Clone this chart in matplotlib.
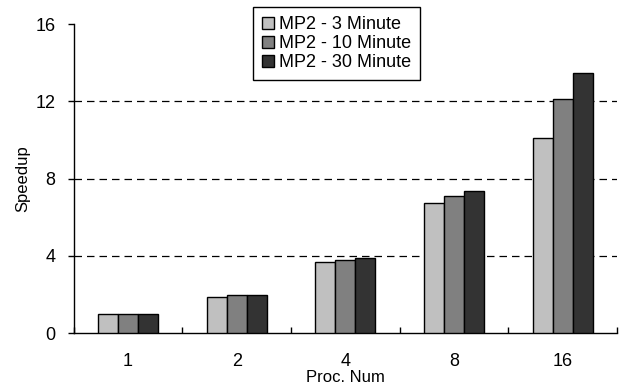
import numpy as np
import matplotlib
matplotlib.use("Agg")
import matplotlib.pyplot as plt

plt.rcParams['font.family'] = ['Liberation Sans', 'DejaVu Sans']

procs = ['1', '2', '4', '8', '16']
series = ['MP2 - 3 Minute', 'MP2 - 10 Minute', 'MP2 - 30 Minute']
speedup_3 = [1.0, 1.88, 3.66, 6.72, 10.12]
speedup_10 = [1.0, 1.98, 3.80, 7.08, 12.12]
speedup_30 = [1.0, 1.98, 3.89, 7.37, 13.47]
colors = ['#c0c0c0', '#808080', '#333333']

fig = plt.figure(figsize=(6.2, 3.9), dpi=100)
ax = fig.add_axes([0.119, 0.146, 0.876, 0.792])

x = np.arange(len(procs))
w = 0.184
for k, (vals, lab) in enumerate(zip([speedup_3, speedup_10, speedup_30], series)):
    ax.bar(x + (k - 1) * w, vals, w, color=colors[k], edgecolor='black',
           linewidth=1.0, label=lab, zorder=3)

ax.set_xlim(-0.5, len(procs) - 0.5)
ax.set_ylim(0, 16)
ax.set_yticks([0, 4, 8, 12, 16])
for yv in [4, 8, 12]:
    ax.axhline(yv, color='black', linestyle=(0, (6, 4)), linewidth=0.9, zorder=1)

ax.set_xticks(x)
ax.set_xticklabels(procs)
ax.set_xticks(np.arange(len(procs) + 1) - 0.5, minor=True)
ax.tick_params(axis='x', which='major', length=0, pad=14, labelsize=13)
ax.tick_params(axis='x', which='minor', direction='in', length=4, width=1)
ax.tick_params(axis='y', direction='out', length=4, width=1, pad=9, labelsize=13)

ax.spines['top'].set_visible(False)
ax.spines['right'].set_visible(False)
ax.spines['left'].set_linewidth(1)
ax.spines['bottom'].set_linewidth(1)

ax.set_xlabel('Proc. Num', fontsize=12, labelpad=0)
ax.set_ylabel('Speedup', fontsize=12, labelpad=4)

leg = fig.legend(loc='upper center', bbox_to_anchor=(0.543, 0.982),
                 fontsize=13, handlelength=0.65, handleheight=0.65,
                 handletextpad=0.3, labelspacing=0.12, borderpad=0.5,
                 borderaxespad=0, fancybox=False, framealpha=1, edgecolor='black')
leg.get_frame().set_linewidth(1)

fig.savefig('out.png', dpi=100)
